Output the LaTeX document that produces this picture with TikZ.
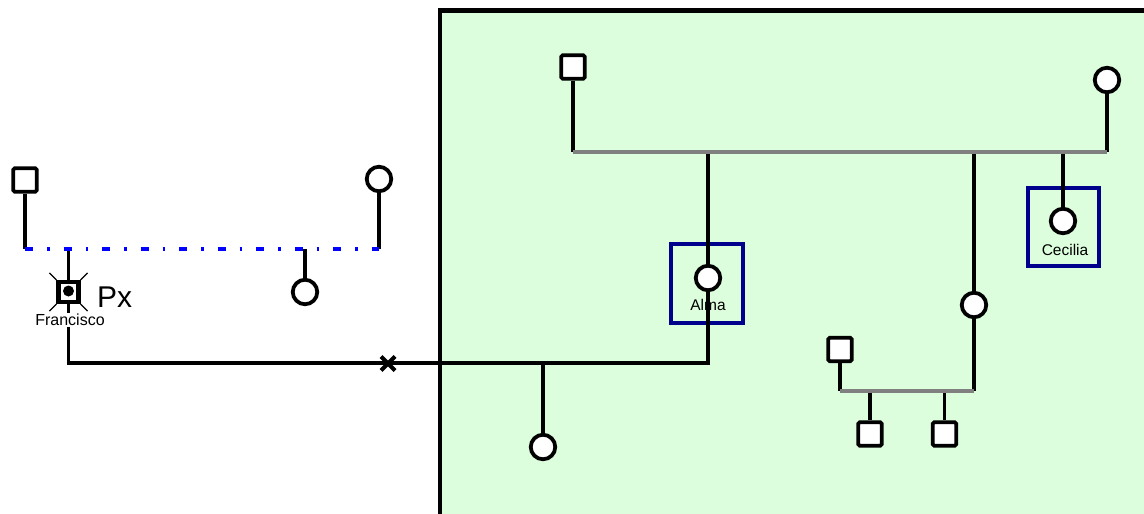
\documentclass[tikz,border=0pt]{standalone}
\usepackage{fontspec}
\setmainfont{Liberation Sans}
\definecolor{bggreen}{RGB}{220,254,220}
\definecolor{boxblue}{RGB}{0,0,140}
\definecolor{sibgray}{RGB}{128,128,128}
\tikzset{
  male/.style={rectangle,draw=black,line width=3.8pt,fill=white,minimum size=23.5pt,inner sep=0pt,rounded corners=1.5pt},
  female/.style={circle,draw=black,line width=3.8pt,fill=white,minimum size=24.5pt,inner sep=0pt},
  probsq/.style={rectangle,draw=black,line width=4.2pt,fill=white,minimum size=20pt,inner sep=0pt},
  rel/.style={line width=3.8pt,black},
  sib/.style={line width=4.5pt,sibgray},
  bluedash/.style={line width=4pt,color=blue,dash pattern=on 8pt off 14pt on 2.5pt off 14pt},
  hilite/.style={rectangle,draw=boxblue,line width=3.6pt,inner sep=0pt},
  namelabel/.style={font=\fontsize{15.5pt}{17pt}\selectfont,inner sep=1pt},
  tick/.style={line width=1.3pt,black}
}
\begin{document}
\begin{tikzpicture}[x=1pt,y=-1pt]
\useasboundingbox (0,0) rectangle (1144,514);
\clip (0,0) rectangle (1144,514);
% green area
\draw[line width=4.5pt,fill=bggreen] (440,10.5) rectangle (1160,530);
% highlight boxes
\node[hilite,minimum width=72pt,minimum height=79pt] (almabox) at (707,283.5) {};
\node[hilite,minimum width=71pt,minimum height=78pt] (cecbox) at (1063.5,227) {};
% left family
\node[male] (f1) at (25,180) {};
\node[female] (m1) at (379,179) {};
\coordinate (l1) at (25,249);
\coordinate (l2) at (379,249);
\coordinate (lc1) at (68.5,249);
\coordinate (lc2) at (305,249);
\node[probsq] (fr) at (68.5,292) {};
\fill (68.5,291) circle (5.5pt);
\draw[tick] (fr.north west) -- ++(-7,-7);
\draw[tick] (fr.north east) -- ++(7,-7);
\draw[tick] (fr.south west) -- ++(-7,7);
\draw[tick] (fr.south east) -- ++(7,7);
\node[female] (s1) at (305,292) {};
\draw[rel] (f1) -- (l1);
\draw[rel] (m1) -- (l2);
\draw[rel] (lc1) -- (fr);
\draw[rel] (lc2) -- (s1);
\draw[bluedash] (l1) -- (l2);
% top family
\node[male] (f2) at (573,67) {};
\node[female] (m2) at (1107,80) {};
\coordinate (t1) at (573,152);
\coordinate (t2) at (1107,152);
\coordinate (tc1) at (708,152);
\coordinate (tc2) at (974,152);
\coordinate (tc3) at (1063,152);
\node[female] (alma) at (708,278) {};
\node[female] (d2) at (974,305) {};
\node[female] (cec) at (1063,221) {};
\draw[rel] (f2) -- (t1);
\draw[rel] (m2) -- (t2);
\draw[rel] (tc1) -- (alma);
\draw[rel] (tc2) -- (d2);
\draw[rel] (tc3) -- (cec);
\draw[sib] (t1) -- (t2);
\node[namelabel] (almalab) at (708,305) {Alma};
\node[namelabel] (ceclab) at (1065,250) {Cecilia};
% Francisco + Alma union
\coordinate (u1) at (68.5,363);
\coordinate (u2) at (708,363);
\coordinate (uc) at (543,363);
\node[female] (k1) at (543,447) {};
\draw[rel] (fr) -- (u1) -- (u2) -- (alma);
\draw[rel] (uc) -- (k1);
\coordinate (xc) at (388,363.5);
\draw[line width=4pt] (xc) ++(-7,-7) -- ++(14,14);
\draw[line width=4pt] (xc) ++(-7,7) -- ++(14,-14);
\node[font=\fontsize{16pt}{18pt}\selectfont,fill=white,inner sep=1.5pt] (frlab) at (70,320) {Francisco};
\node[font=\fontsize{30pt}{32pt}\selectfont,anchor=base west,inner sep=0pt] (px) at (97,307) {Px};
% bottom family
\node[male] (f3) at (840,349.5) {};
\coordinate (b1) at (840,391);
\coordinate (b2) at (974,391);
\coordinate (bc1) at (870,391);
\coordinate (bc2) at (944.5,391);
\node[male] (g1) at (870,434) {};
\node[male] (g2) at (944.5,434) {};
\draw[rel] (f3) -- (b1);
\draw[rel] (d2) -- (b2);
\draw[rel] (bc1) -- (g1);
\draw[rel] (bc2) -- (g2);
\draw[sib] (b1) -- (b2);
\end{tikzpicture}
\end{document}
